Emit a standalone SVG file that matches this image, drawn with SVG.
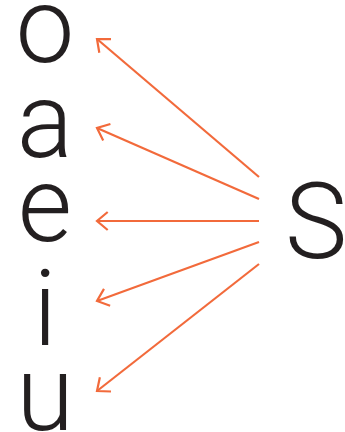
<svg xmlns="http://www.w3.org/2000/svg" width="345" height="432" viewBox="0 0 345 432">
<style>
.lt{font-family:Roboto,"Liberation Sans",sans-serif;font-weight:300;font-size:105px;fill:#231f20;text-anchor:middle}
.ar{stroke:#f26a3b;stroke-width:2.2;fill:none;marker-end:url(#ah)}
</style>
<defs>
<marker id="ah" markerUnits="userSpaceOnUse" orient="auto" markerWidth="30" markerHeight="30" refX="0" refY="0" viewBox="-15 -15 30 30" overflow="visible">
<path d="M-10.7,-9 L0,0 L-10.7,9" fill="none" stroke="#f26a3b" stroke-width="2.2"/>
</marker>
</defs>
<g id="node-o"><text class="lt" x="45" y="62">o</text></g>
<g id="node-a"><text class="lt" x="45" y="157">a</text></g>
<g id="node-e"><text class="lt" x="45" y="241">e</text></g>
<g id="node-i"><text class="lt" x="45" y="345">i</text></g>
<g id="node-u"><text class="lt" x="45" y="430">u</text></g>
<g id="node-S"><text class="lt" x="316" y="258">S</text></g>
<g id="connectors">
<line class="ar" x1="259" y1="177" x2="97" y2="39"/>
<line class="ar" x1="259" y1="199" x2="97" y2="128"/>
<line class="ar" x1="259" y1="221" x2="97" y2="221"/>
<line class="ar" x1="259" y1="242" x2="97" y2="301"/>
<line class="ar" x1="259" y1="264" x2="97" y2="391"/>
</g>
</svg>
